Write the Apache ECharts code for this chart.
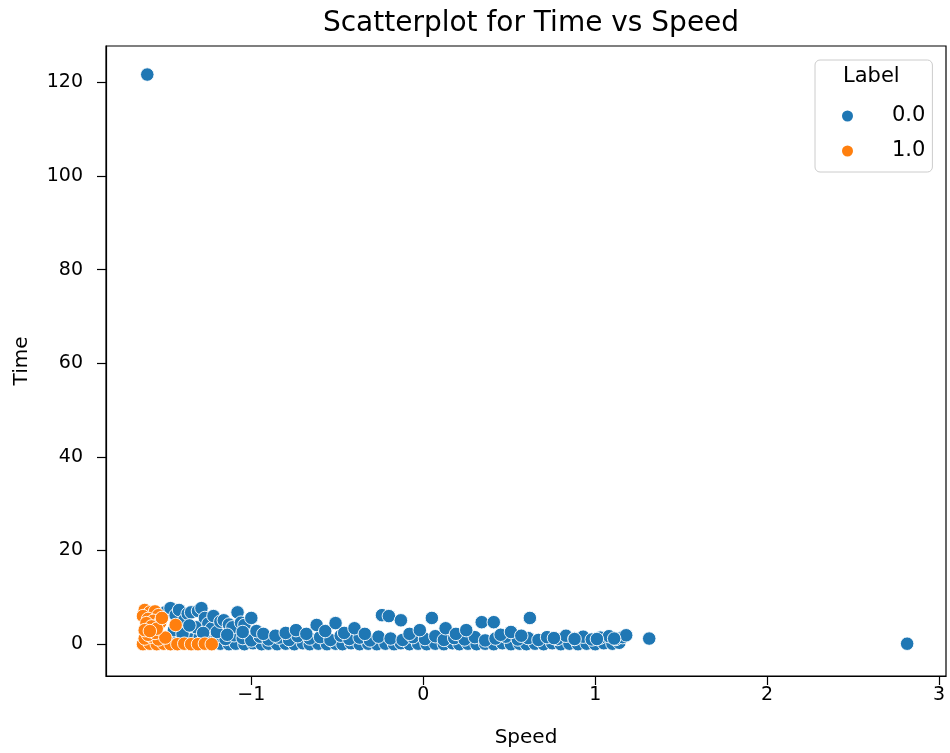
<!DOCTYPE html>
<html>
<head>
<meta charset="utf-8">
<script src="https://cdn.jsdelivr.net/npm/echarts@6/dist/echarts.min.js"></script>
<style>
html,body{margin:0;padding:0;background:#fff;}
#chart{width:950px;height:753px;}
</style>
</head>
<body>
<div id="chart"></div>
<script>
// ---- data (Speed, Time) ----
const seriesNames = ['0.0', '1.0'];
const xTicks = [-1, 0, 1, 2, 3];
const yTicks = [0, 20, 40, 60, 80, 100, 120];

// Label 0.0 : bottom row (Time ~ 0)
const label0Row = [
  [-1.18,0.1],[-1.13,0.0],[-1.09,0.1],[-1.04,0.0],[-0.99,0.2],[-0.94,0.0],[-0.90,0.1],[-0.85,0.0],
  [-0.80,0.1],[-0.75,0.0],[-0.70,0.2],[-0.66,0.0],[-0.61,0.1],[-0.56,0.0],[-0.51,0.1],[-0.47,0.0],
  [-0.42,0.2],[-0.37,0.0],[-0.32,0.1],[-0.27,0.0],[-0.22,0.1],[-0.17,0.0],[-0.13,0.2],[-0.08,0.0],
  [-0.03,0.1],[0.02,0.0],[0.07,0.1],[0.12,0.0],[0.17,0.2],[0.21,0.0],[0.26,0.1],[0.31,0.0],
  [0.36,0.1],[0.41,0.0],[0.46,0.2],[0.51,0.0],[0.56,0.1],[0.60,0.0],[0.65,0.1],[0.70,0.0],
  [0.75,0.2],[0.80,0.0],[0.85,0.1],[0.90,0.0],[0.95,0.1],[1.00,0.0],[1.05,0.2],[1.10,0.1],[1.14,0.3]
];
// Label 0.0 : dense band (Time ~ 1-2)
const label0Band = [
  [-1.45,1.2],[-1.40,1.8],[-1.35,1.0],[-1.30,1.5],[-1.25,0.9],[-1.20,1.7],[-1.15,1.1],[-1.10,1.9],
  [-1.05,1.3],[-1.00,0.8],[-0.95,1.6],[-0.90,1.0],[-0.84,1.4],[-0.78,0.9],[-0.73,1.7],[-0.66,1.2],
  [-0.60,1.5],[-0.54,0.9],[-0.48,1.8],[-0.43,1.1],[-0.37,1.4],[-0.31,0.8],[-0.26,1.6],[-0.19,1.2],
  [-0.12,0.9],[-0.06,1.5],[0.01,1.1],[0.07,1.7],[0.12,0.9],[0.18,1.3],[0.24,1.0],[0.30,1.5],
  [0.36,0.8],[0.42,1.2],[0.48,1.6],[0.55,1.0],[0.61,1.3],[0.67,0.9],[0.72,1.5],[0.78,1.1],
  [0.83,1.8],[0.88,1.2],[0.93,1.6],[0.98,1.0],[1.03,1.4],[1.08,1.7],[1.12,1.1],[1.16,1.5],
  [1.18,1.9],[0.76,1.3],[0.88,1.1],[1.01,1.1],[1.11,1.2]
];
// Label 0.0 : scattered higher values
const label0Upper = [
  [-1.50,6.8],[-1.47,7.7],[-1.44,6.2],[-1.42,7.3],[-1.39,5.1],[-1.37,6.5],[-1.35,6.8],[-1.32,3.6],
  [-1.31,7.1],[-1.29,7.7],[-1.27,5.6],[-1.25,4.4],[-1.23,3.4],[-1.22,6.0],[-1.20,2.6],[-1.18,4.8],
  [-1.16,5.1],[-1.13,4.2],[-1.11,3.6],[-1.08,6.8],[-1.06,4.6],[-1.04,4.1],[-1.00,5.6],[-0.97,2.8],
  [-1.45,3.0],[-1.40,2.2],[-1.36,4.0],[-1.28,2.4],[-1.14,2.0],[-1.05,2.6],
  [-0.93,2.2],[-0.86,1.8],[-0.80,2.4],[-0.74,3.0],[-0.68,2.2],[-0.62,4.1],[-0.57,2.8],[-0.51,4.5],
  [-0.46,2.4],[-0.40,3.4],[-0.34,2.2],[-0.24,6.2],[-0.20,6.0],[-0.13,5.1],[-0.08,2.2],[-0.02,3.0],
  [0.05,5.6],[0.13,3.4],[0.19,2.2],[0.25,3.0],[0.34,4.7],[0.41,4.7],[0.45,2.0],[0.51,2.6],
  [0.62,5.6],[0.57,1.8]
];
// Label 0.0 : isolated points
const label0Outliers = [[-1.605,121.7],[2.814,0.1],[1.314,1.2]];

// Label 1.0
const label1Points = [
  [-1.63,0.0],[-1.59,0.1],[-1.55,0.0],[-1.51,0.1],[-1.47,0.0],[-1.43,0.0],[-1.39,0.1],[-1.35,0.0],
  [-1.31,0.0],[-1.27,0.1],[-1.23,0.0],
  [-1.62,1.2],[-1.58,1.6],[-1.54,1.0],[-1.60,2.0],[-1.56,2.4],[-1.50,1.4],
  [-1.62,7.3],[-1.59,6.8],[-1.56,7.0],[-1.54,6.2],[-1.63,6.0],[-1.60,5.4],[-1.57,5.0],[-1.53,4.6],
  [-1.61,4.5],[-1.58,3.8],[-1.55,3.3],[-1.62,3.0],[-1.59,2.8],[-1.44,4.1],[-1.52,5.6]
];

const label0Points = label0Row.concat(label0Band, label0Upper, label0Outliers);

const fmt = v => (v < 0 ? '\u2212' + Math.abs(v) : String(v));
const FONT = 'DejaVu Sans';

const chart = echarts.init(document.getElementById('chart'), null, {renderer: 'canvas'});
chart.setOption({
  backgroundColor: '#fff',
  animation: false,
  title: {
    text: 'Scatterplot for Time vs Speed',
    left: 526, top: 5, textAlign: 'center',
    textStyle: {fontFamily: FONT, fontSize: 28, fontWeight: 'normal', color: '#000'}
  },
  grid: {left: 106, right: 4, top: 46, bottom: 77, show: true, borderColor: '#000', borderWidth: 1.2, backgroundColor: 'transparent'},
  legend: {
    orient: 'vertical', left: 815, top: 60,
    padding: [45, 7, 10, 25],
    itemGap: 13, itemWidth: 13, itemHeight: 13,
    icon: 'circle',
    backgroundColor: '#fff', borderColor: '#ccc', borderWidth: 1, borderRadius: 5,
    textStyle: {fontFamily: FONT, fontSize: 21, lineHeight: 22, color: '#000', padding: [0, 0, 0, 33]},
    data: seriesNames
  },
  graphic: [{
    type: 'text', left: 843, top: 66, z: 100,
    style: {text: 'Label', fontFamily: FONT, fontSize: 21, fill: '#000'}
  }],
  xAxis: {
    type: 'value', min: -1.845, max: 3.04,
    name: 'Speed', nameLocation: 'middle', nameGap: 52,
    nameTextStyle: {fontFamily: FONT, fontSize: 20, color: '#000'},
    axisLine: {show: true, onZero: false, lineStyle: {color: '#000', width: 1.2}},
    axisTick: {show: true, length: 9, lineStyle: {color: '#000', width: 1.2}, customValues: xTicks},
    axisLabel: {fontFamily: FONT, fontSize: 19, color: '#000', margin: 10, customValues: xTicks, formatter: fmt},
    splitLine: {show: false}
  },
  yAxis: {
    type: 'value', min: -6.8, max: 127.8,
    name: 'Time', nameLocation: 'middle', nameGap: 74, nameRotate: 90,
    nameTextStyle: {fontFamily: FONT, fontSize: 20, color: '#000'},
    axisLine: {show: true, onZero: false, lineStyle: {color: '#000', width: 1.2}},
    axisTick: {show: true, length: 9, lineStyle: {color: '#000', width: 1.2}, customValues: yTicks},
    axisLabel: {fontFamily: FONT, fontSize: 19, color: '#000', margin: 23, customValues: yTicks, formatter: fmt},
    splitLine: {show: false}
  },
  series: [
    {name: seriesNames[0], type: 'scatter', data: label0Points, symbolSize: 13.5,
     itemStyle: {color: '#1f77b4', borderColor: '#fff', borderWidth: 0.9, opacity: 1}},
    {name: seriesNames[1], type: 'scatter', data: label1Points, symbolSize: 13.5,
     itemStyle: {color: '#ff7f0e', borderColor: '#fff', borderWidth: 0.9, opacity: 1}}
  ]
});
</script>
</body>
</html>
